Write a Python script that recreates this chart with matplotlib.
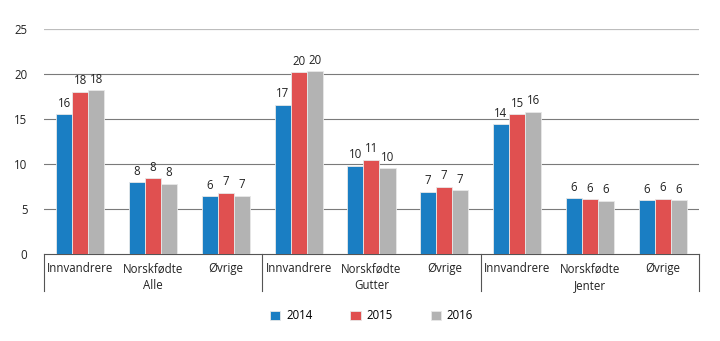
import numpy as np
import matplotlib
matplotlib.use("Agg")
from matplotlib import pyplot as plt

plt.rcParams['font.family'] = ['Open Sans', 'DejaVu Sans']

groups = ["Alle", "Gutter", "Jenter"]
categories = ["Innvandrere", "Norskfødte", "Øvrige"] * 3
years = ["2014", "2015", "2016"]
values_2014 = [15.5, 8.0, 6.4, 16.6, 9.8, 6.9, 14.4, 6.2, 5.95]
values_2015 = [18.0, 8.4, 6.8, 20.2, 10.5, 7.5, 15.5, 6.1, 6.15]
values_2016 = [18.2, 7.8, 6.5, 20.3, 9.55, 7.1, 15.8, 5.9, 5.95]
labels_2014 = ["16", "8", "6", "17", "10", "7", "14", "6", "6"]
labels_2015 = ["18", "8", "7", "20", "11", "7", "15", "6", "6"]
labels_2016 = ["18", "8", "7", "20", "10", "7", "16", "6", "6"]
colors = ["#1a7ec3", "#e05050", "#b3b3b3"]

fig = plt.figure(figsize=(7.2, 3.41), dpi=100)
ax = fig.add_axes([0.0611, 0.2551, 0.9097, 0.6599])

x = np.arange(len(categories))
width = 0.22
series = [values_2014, values_2015, values_2016]
labels = [labels_2014, labels_2015, labels_2016]
for i, (vals, labs) in enumerate(zip(series, labels)):
    pos = x + (i - 1) * width
    bars = ax.bar(pos, vals, width, color=colors[i], edgecolor="#e8e8e8",
                  linewidth=0.6, label=years[i], zorder=3)
    for b, lab in zip(bars, labs):
        ax.text(b.get_x() + b.get_width() / 2, b.get_height() + 0.5, lab,
                ha="center", va="bottom", fontsize=8.3, color="#222222")

ax.set_xlim(-0.5, len(categories) - 0.5)
ax.set_ylim(0, 25)
ax.set_yticks([0, 5, 10, 15, 20, 25])
for y in [5, 10, 15, 20]:
    ax.axhline(y, color="#7a7a7a", linewidth=0.8, zorder=1)
ax.axhline(25, color="#bdbdbd", linewidth=1.6, zorder=1)

for s in ["left", "top", "right"]:
    ax.spines[s].set_visible(False)
ax.spines["bottom"].set_color("#555555")
ax.spines["bottom"].set_linewidth(0.8)
ax.tick_params(axis="y", length=0, labelsize=8.3, pad=12, colors="#222222")
ax.tick_params(axis="x", length=0, labelsize=8.3, pad=6, colors="#222222")
ax.set_xticks(x)
ax.set_xticklabels(categories)

trans = ax.get_xaxis_transform()
for k in range(len(groups) + 1):
    xs = k * 3 - 0.5
    ax.plot([xs, xs], [0, -0.165], transform=trans, color="#555555",
            linewidth=0.8, clip_on=False)
for k, g in enumerate(groups):
    ax.text(k * 3 + 1, -0.142, g, transform=trans, ha="center", va="center",
            fontsize=8.3, color="#222222")

ax.legend(loc="upper center", bbox_to_anchor=(0.5, -0.2), ncol=3, frameon=False,
          fontsize=8.3, handlelength=0.9, handleheight=0.9, columnspacing=3.3,
          handletextpad=0.5)

fig.savefig("out.png", dpi=100)
